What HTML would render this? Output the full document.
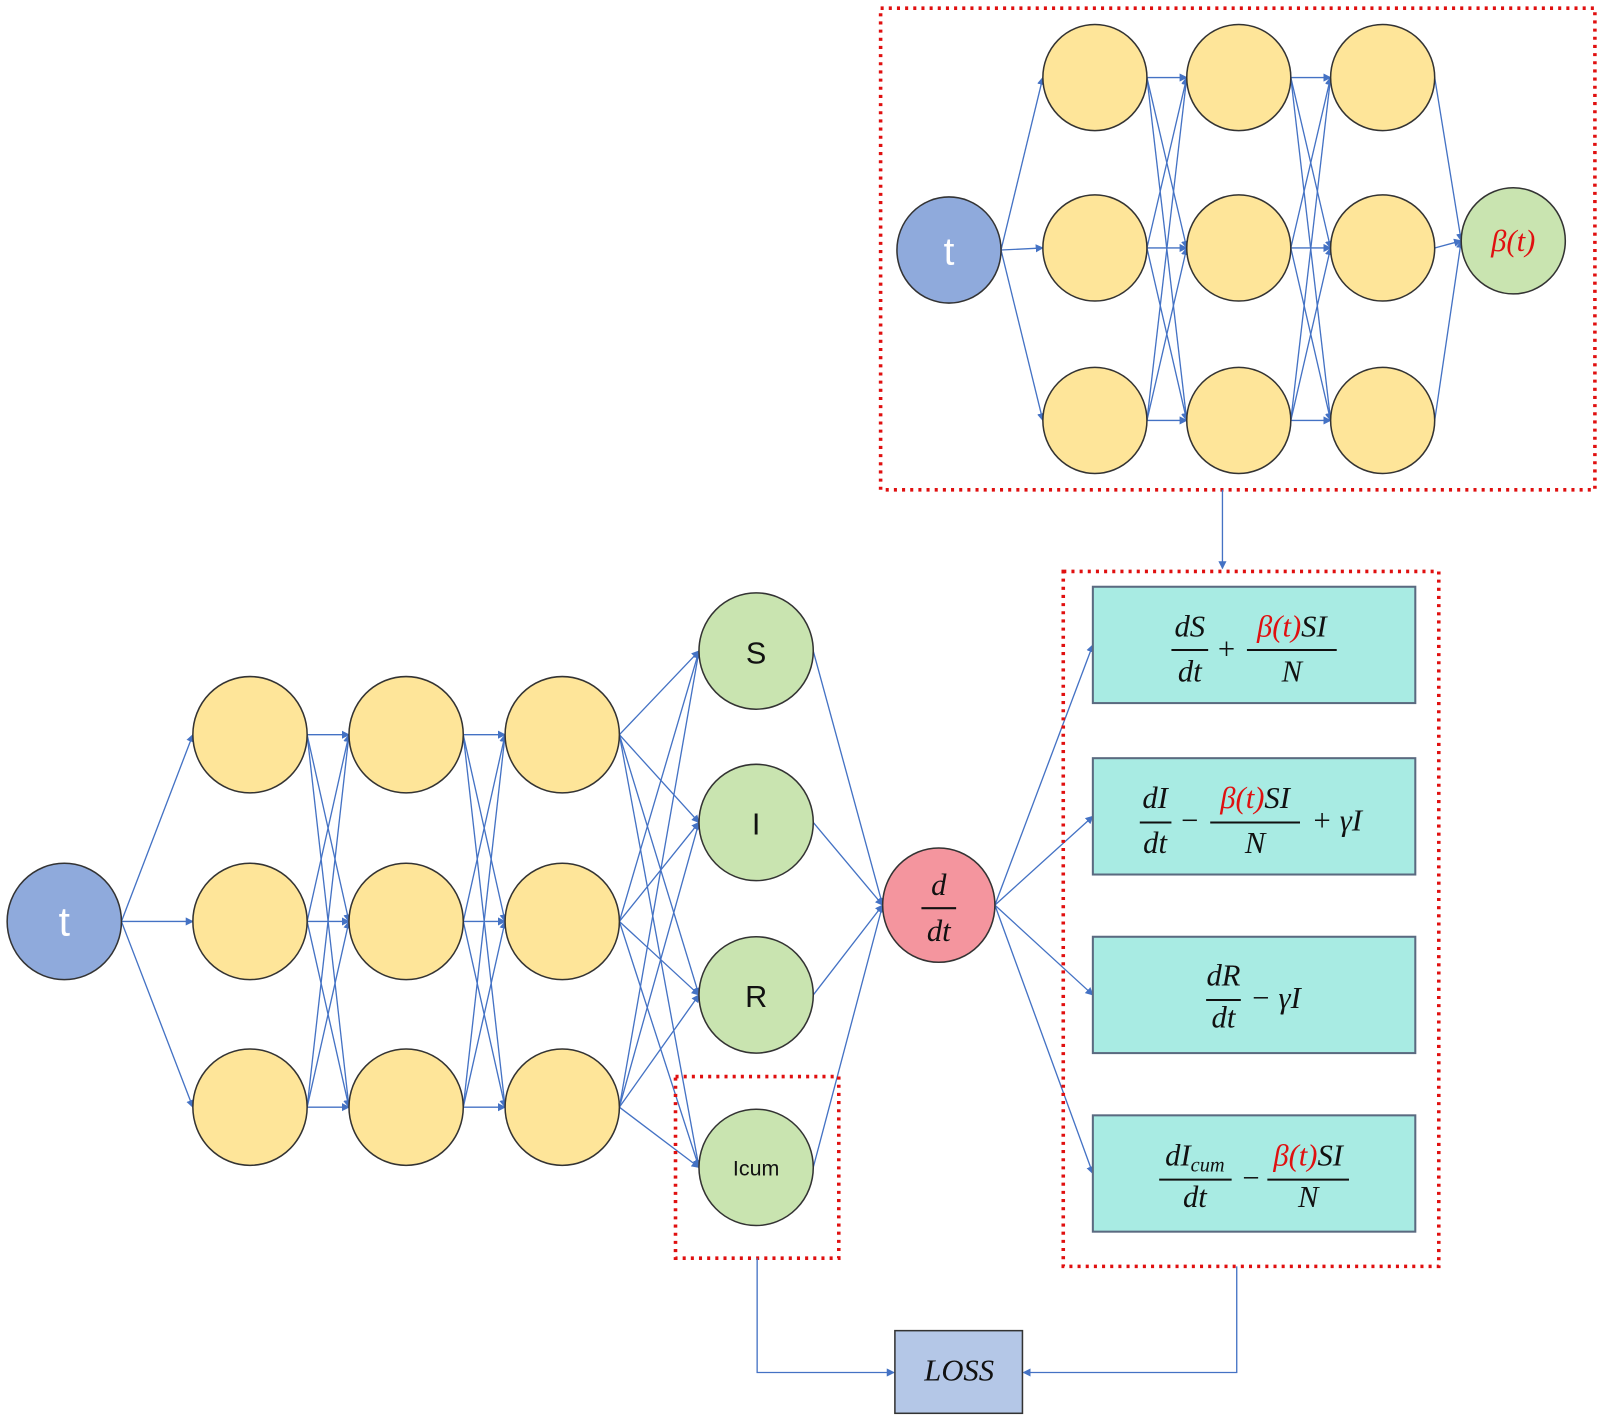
<!DOCTYPE html>
<html><head><meta charset="utf-8"><style>
html,body{margin:0;padding:0;background:#fff}
svg{display:block}
.m{font-family:"Liberation Serif",serif;font-style:italic;font-size:30px;fill:#111}
.r{fill:#e01010}
.s{font-family:"Liberation Sans",sans-serif}
</style></head><body>
<svg id="s" width="1600" height="1418" viewBox="0 0 1568 1389.6" preserveAspectRatio="none" xmlns="http://www.w3.org/2000/svg">
<defs><marker id="a" markerWidth="8" markerHeight="8" refX="7" refY="4" orient="auto" markerUnits="userSpaceOnUse"><path d="M0,0 L8,4 L0,8 z" fill="#4472c4"/></marker></defs>
<g id="L" stroke="#4472c4" stroke-width="1.3" fill="none"></g>
<g fill="none" stroke="#e01010" stroke-width="3.5" stroke-dasharray="3,5">
<rect x="863" y="8" width="700" height="472"/>
<rect x="1042" y="560" width="368" height="681"/>
<rect x="662" y="1055" width="160" height="178"/>
</g>
<g stroke="#4472c4" stroke-width="1.3" fill="none">
<path d="M1198,480 V557" marker-end="url(#a)"/>
<path d="M742,1233 V1345 H876" marker-end="url(#a)"/>
<path d="M1212,1241 V1345 H1003" marker-end="url(#a)"/>
</g>
<g id="N" stroke="#333" stroke-width="1.5"></g>
<g fill="#a8ebe3" stroke="#5a6a80" stroke-width="2">
<rect x="1071" y="575" width="316" height="114"/>
<rect x="1071" y="743" width="316" height="114"/>
<rect x="1071" y="918" width="316" height="114"/>
<rect x="1071" y="1093" width="316" height="114"/>
</g>
<rect x="877" y="1304" width="125" height="81" fill="#b4c7e7" stroke="#333" stroke-width="1.5"/>
<text x="940" y="1353" class="m" text-anchor="middle" font-size="26">LOSS</text>
<g class="s" text-anchor="middle">
<text x="63" y="917" font-size="40" fill="#fff">t</text>
<text x="930" y="259" font-size="38" fill="#fff">t</text>
<text x="741" y="650" font-size="30" fill="#111">S</text>
<text x="741" y="818" font-size="30" fill="#111">I</text>
<text x="741" y="987" font-size="30" fill="#111">R</text>
<text x="741" y="1152" font-size="21" fill="#111">Icum</text>
</g>
<text x="1483" y="246" class="m r" text-anchor="middle" font-size="28">β(t)</text>
<g class="m" text-anchor="middle">
<text x="920" y="877">d</text><line x1="903" y1="890" x2="937" y2="890" stroke="#111" stroke-width="2"/><text x="920" y="922">dt</text>
<text x="1166" y="624">dS</text><line x1="1148" y1="637" x2="1184" y2="637" stroke="#111" stroke-width="2"/><text x="1166" y="668">dt</text>
<text x="1202" y="646" font-style="normal">+</text>
<text x="1266" y="624"><tspan class="r">β(t)</tspan>SI</text><line x1="1222" y1="637" x2="1310" y2="637" stroke="#111" stroke-width="2"/><text x="1266" y="668">N</text>
<text x="1132" y="792">dI</text><line x1="1117" y1="806" x2="1148" y2="806" stroke="#111" stroke-width="2"/><text x="1132" y="836">dt</text>
<text x="1166" y="814" font-style="normal">−</text>
<text x="1230" y="792"><tspan class="r">β(t)</tspan>SI</text><line x1="1186" y1="806" x2="1274" y2="806" stroke="#111" stroke-width="2"/><text x="1230" y="836">N</text>
<text x="1310" y="814">+ γI</text>
<text x="1199" y="966">dR</text><line x1="1182" y1="980" x2="1216" y2="980" stroke="#111" stroke-width="2"/><text x="1199" y="1007">dt</text>
<text x="1250" y="988">− γI</text>
<text x="1171" y="1142">dI<tspan font-size="20" dy="6">cum</tspan></text><line x1="1136" y1="1156" x2="1207" y2="1156" stroke="#111" stroke-width="2"/><text x="1171" y="1183">dt</text>
<text x="1226" y="1164" font-style="normal">−</text>
<text x="1282" y="1142"><tspan class="r">β(t)</tspan>SI</text><line x1="1242" y1="1156" x2="1322" y2="1156" stroke="#111" stroke-width="2"/><text x="1282" y="1183">N</text>
</g>
</svg>
<script>
var NS="http://www.w3.org/2000/svg",L=document.getElementById("L"),N=document.getElementById("N");
function ln(a,b){var e=document.createElementNS(NS,"line");e.setAttribute("x1",a[0]+a[2]);e.setAttribute("y1",a[1]);e.setAttribute("x2",b[0]-b[2]);e.setAttribute("y2",b[1]);e.setAttribute("marker-end","url(#a)");L.appendChild(e);}
function c(n,f){var e=document.createElementNS(NS,"ellipse");e.setAttribute("cx",n[0]);e.setAttribute("cy",n[1]);e.setAttribute("rx",n[2]);e.setAttribute("ry",n[2]+1);e.setAttribute("fill",f);N.appendChild(e);}
function full(A,B){A.forEach(function(a){B.forEach(function(b){ln(a,b);});});}
var Y="#fee599",G="#c9e4b0";
var t=[[63,903,56]],cols=[245,398,551].map(function(x){return [720,903,1085].map(function(y){return [x,y,56];});});
var gr=[638,806,975,1144].map(function(y){return [741,y,56];}),d=[[920,887,55]];
var bx=[632,800,975,1150].map(function(y){return [1071,y,0];});
full(t,cols[0]);full(cols[0],cols[1]);full(cols[1],cols[2]);full(cols[2],gr);full(gr,d);full(d,bx);
t.forEach(function(n){c(n,"#8faadc");});cols.forEach(function(cl){cl.forEach(function(n){c(n,Y);});});
gr.forEach(function(n){c(n,G);});c(d[0],"#f4959e");
var t2=[[930,245,51]],tc=[1073,1214,1355].map(function(x){return [76,243,412].map(function(y){return [x,y,51];});}),b=[[1483,236,51]];
full(t2,tc[0]);full(tc[0],tc[1]);full(tc[1],tc[2]);full(tc[2],b);
c(t2[0],"#8faadc");tc.forEach(function(cl){cl.forEach(function(n){c(n,Y);});});c(b[0],G);
</script>
</body></html>
